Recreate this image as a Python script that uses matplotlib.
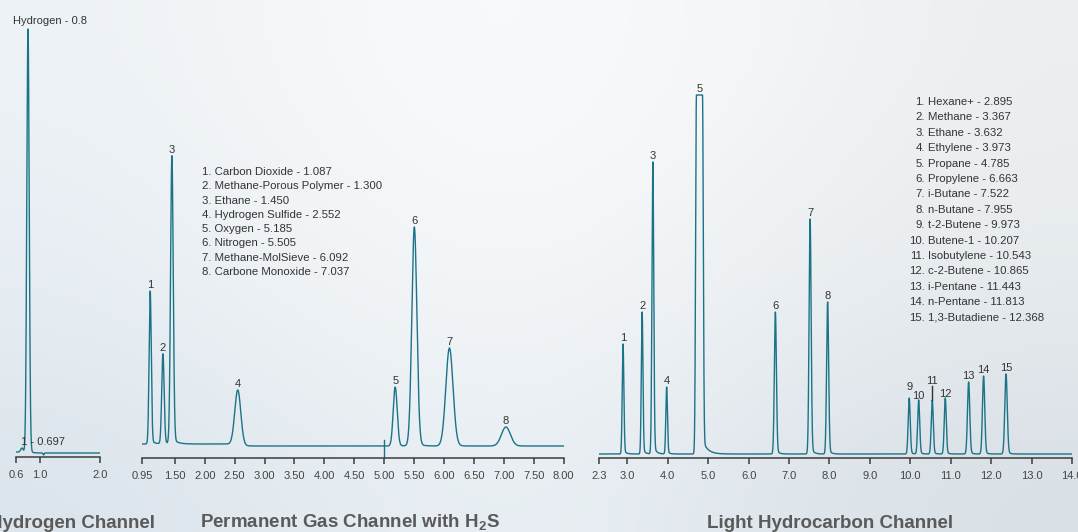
import numpy as np
import matplotlib
matplotlib.use('Agg')
import matplotlib.pyplot as plt
from matplotlib.colors import to_rgb

W, H = 1078, 532

plt.rcParams['font.family'] = ['Liberation Sans', 'DejaVu Sans']
plt.rcParams['mathtext.fontset'] = 'custom'
plt.rcParams['mathtext.rm'] = 'Liberation Sans'
plt.rcParams['mathtext.bf'] = 'Liberation Sans:bold'

# --- hydrogen channel (TCD) ---
h2_times = [0.697, 0.8]
h2_heights = [4, 423]
h2_widths = [0.02, 0.02]

# --- permanent gas channel with H2S ---
pg_names = ['Carbon Dioxide', 'Methane-Porous Polymer', 'Ethane', 'Hydrogen Sulfide',
            'Oxygen', 'Nitrogen', 'Methane-MolSieve', 'Carbone Monoxide']
pg_times = [1.087, 1.300, 1.450, 2.552, 5.185, 5.505, 6.092, 7.037]
pg_heights = [153, 90, 288, 55, 59, 219, 98, 19]
pg_widths = [0.018, 0.02, 0.022, 0.05, 0.033, 0.042, 0.06, 0.075]
pg_drift = -2          # baseline shift after the H2S peak
pg_valve_time = 5.0    # valve switch marker

# --- light hydrocarbon channel ---
lh_names = ['Hexane+', 'Methane', 'Ethane', 'Ethylene', 'Propane', 'Propylene',
            'i-Butane', 'n-Butane', 't-2-Butene', 'Butene-1', 'Isobutylene',
            'c-2-Butene', 'i-Pentane', 'n-Pentane', '1,3-Butadiene']
lh_times = [2.895, 3.367, 3.632, 3.973, 4.785, 6.663, 7.522, 7.955, 9.973,
            10.207, 10.543, 10.865, 11.443, 11.813, 12.368]
lh_heights = [110, 142, 292, 67, 359, 142, 235, 152, 56, 54, 54, 56, 72, 78, 80]
lh_widths = [0.02, 0.02, 0.022, 0.02, 0.02, 0.025, 0.025, 0.025, 0.025,
             0.025, 0.025, 0.025, 0.028, 0.028, 0.03]
lh_saturated = 4       # propane runs off scale (index)

TRACE = '#1c7387'
INK = '#333333'
AXIS = '#3c3c3c'


def peak_shape(x, rt, sigma, flat=0.0, tail=0.05, tau=0.05):
    d = x - rt
    half = flat / 2
    core = np.where(np.abs(d) <= half, 1.0,
                    np.exp(-0.5 * ((np.abs(d) - half) / sigma) ** 2))
    t = np.where(d > half, tail * np.exp(-np.clip(d - half, 0, None) / tau), 0.0)
    return core + t * (1 - core)


def panel(x0, x1, base, axis, xlim, ticks, fmt):
    ax = fig.add_axes([x0 / W, 1 - axis / H, (x1 - x0) / W, axis / H])
    ax.set_xlim(*xlim)
    ax.set_ylim(-(axis - base), base)
    ax.patch.set_visible(False)
    for s in ['top', 'right', 'left']:
        ax.spines[s].set_visible(False)
    ax.spines['bottom'].set_color(AXIS)
    ax.spines['bottom'].set_linewidth(1.1)
    ax.set_yticks([])
    ax.set_xticks(ticks)
    ax.set_xticklabels([fmt.format(t) for t in ticks])
    ax.tick_params(axis='x', direction='out', length=4.3, width=1.1, color=AXIS,
                   labelsize=8, labelcolor='#444444', pad=5)
    return ax


fig = plt.figure(figsize=(W / 100, H / 100), dpi=100)

# soft backdrop
bg = fig.add_axes([0, 0, 1, 1])
bg.axis('off')
grid = [['#edf2f6', '#f6f8fa', '#f9fafb', '#f4f6f7', '#eceff1'],
        ['#e9eff4', '#f3f6f8', '#f7f9fa', '#f0f3f5', '#e9edf0'],
        ['#e4ebf1', '#eef2f5', '#f2f5f8', '#e9eef2', '#e3e8ec'],
        ['#dce5ec', '#e4ebf1', '#eaf0f4', '#dfe6ec', '#d9e0e6']]
bg.imshow(np.array([[to_rgb(c) for c in row] for row in grid]), aspect='auto',
          interpolation='bicubic', extent=[0, 1, 0, 1])
bg.set_xlim(0, 1)
bg.set_ylim(0, 1)

# ---- Hydrogen channel ----
ax1 = panel(16, 100, 452, 457, (0.6, 2.0), [0.6, 1.0, 2.0], '{:.1f}')
x = np.linspace(0.6, 2.0, 4000)
y = np.zeros_like(x)
for t, h, w in zip(h2_times, h2_heights, h2_widths):
    y += h * peak_shape(x, t, w, tail=0.01, tau=0.04)
y += -1 * (0.5 + 0.5 * np.tanh((x - 0.85) / 0.02))
y += -2 * peak_shape(x, 1.06, 0.008, tail=0)
ax1.plot(x, y, color=TRACE, lw=1.0)
ax1.annotate('Hydrogen - {:g}'.format(h2_times[1]), xy=(h2_times[1], h2_heights[1]),
             xytext=(-15, 5), textcoords='offset pixels', ha='left', va='baseline',
             fontsize=8, color=INK)
ax1.annotate('1 - {:.3f}'.format(h2_times[0]), xy=(h2_times[0], h2_heights[0]),
             xytext=(-1, 3), textcoords='offset pixels', ha='left', va='baseline',
             fontsize=8, color=INK)

# ---- Permanent gas channel ----
pg_ticks = [0.95] + list(np.arange(1.5, 8.01, 0.5))
ax2 = panel(142, 563.5, 444, 458, (0.95, 8.0), pg_ticks, '{:.2f}')
x = np.linspace(0.95, 8.0, 8000)
base2 = pg_drift * (0.5 + 0.5 * np.tanh((x - pg_times[3]) / 0.08))
y = base2.copy()
for t, h, w in zip(pg_times, pg_heights, pg_widths):
    y += h * peak_shape(x, t, w, tail=0.02, tau=0.08)
ax2.plot(x, y, color=TRACE, lw=1.0)
ax2.plot([pg_valve_time, pg_valve_time], [-14, 4], color=TRACE, lw=1.0)
for i, (t, h) in enumerate(zip(pg_times, pg_heights)):
    lvl = np.interp(t, x, base2)
    ax2.annotate(str(i + 1), xy=(t, h + lvl), xytext=(0, 3), textcoords='offset pixels',
                 ha='center', va='baseline', fontsize=8, color=INK)
for i, (name, t) in enumerate(zip(pg_names, pg_times)):
    fig.text(202 / W, 1 - (172 + 14.3 * i) / H, '{}. {} - {:.3f}'.format(i + 1, name, t),
             ha='left', va='center', fontsize=8.2, color=INK)

# ---- Light hydrocarbon channel ----
lh_ticks = [2.3] + list(np.arange(3.0, 14.01, 1.0))
ax3 = panel(599, 1072, 454, 458, (2.3, 14.0), lh_ticks, '{:.1f}')
x = np.linspace(2.3, 14.0, 12000)
y = np.zeros_like(x)
for i, (t, h, w) in enumerate(zip(lh_times, lh_heights, lh_widths)):
    if i == lh_saturated:
        y += h * peak_shape(x, t, w, flat=0.15, tail=0.04, tau=0.12)
    else:
        y += h * peak_shape(x, t, w, tail=0.04, tau=0.06)
ax3.plot(x, y, color=TRACE, lw=1.0)

label_lift = {8: 8, 9: 1, 10: 16, 11: 1}
for i, (t, h) in enumerate(zip(lh_times, lh_heights)):
    dy = label_lift.get(i, 3)
    ax3.annotate(str(i + 1), xy=(t, h), xytext=(0, dy), textcoords='offset pixels',
                 ha='center', va='baseline', fontsize=8, color=INK)
ax3.plot([lh_times[10], lh_times[10]], [lh_heights[10], lh_heights[10] + 14],
         color=INK, lw=1.0)

for i, (name, t) in enumerate(zip(lh_names, lh_times)):
    yy = 1 - (102 + 15.4 * i) / H
    fig.text(925 / W, yy, '{}.'.format(i + 1), ha='right', va='center',
             fontsize=8.2, color=INK)
    fig.text(928 / W, yy, '{} - {}'.format(name, t if len('{}'.format(t).split('.')[1]) == 3 else '{:.3f}'.format(t)),
             ha='left', va='center', fontsize=8.2, color=INK)

# channel titles
title_kw = dict(fontsize=13.5, fontweight='bold', color='#5a5a5a', va='baseline')
fig.text(155 / W, 1 - 528 / H, 'Hydrogen Channel', ha='right', **title_kw)
fig.text(200 / W, 1 - 528 / H, r'Permanent Gas Channel with H$_\mathregular{2}$S',
         ha='left', **title_kw)
fig.text(707 / W, 1 - 528 / H, 'Light Hydrocarbon Channel', ha='left', **title_kw)

fig.savefig('out.png', dpi=100)
